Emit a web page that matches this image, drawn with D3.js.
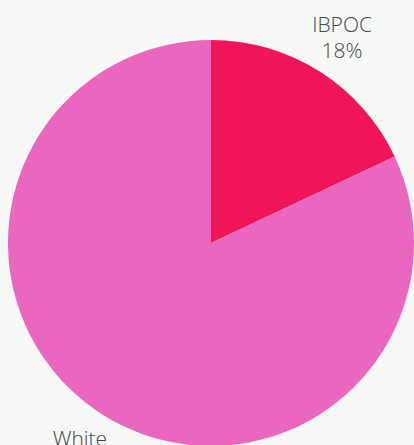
<!DOCTYPE html>
<html>
<head>
<meta charset="utf-8">
<script src="https://cdn.jsdelivr.net/npm/d3@7"></script>
<style>
  html, body { margin: 0; padding: 0; background: #f6f8f6; }
  svg { display: block; }
</style>
</head>
<body>
<svg id="chart" width="414" height="445"></svg>
<script>
// Share of respondents by group
const categories = ["IBPOC", "White"];
const values = [18, 82];
const colors = ["#ee1558", "#ea67bf"];

const width = 414, height = 445;
const cx = 211, cy = 243, radius = 203;

const svg = d3.select("#chart");
svg.append("rect").attr("width", width).attr("height", height).attr("fill", "#f6f8f6");

const data = categories.map((c, i) => ({ label: c, value: values[i], color: colors[i] }));

const pie = d3.pie().value(d => d.value).sort(null);
const arc = d3.arc().innerRadius(0).outerRadius(radius);
const labelArc = d3.arc().innerRadius(radius * 1.205).outerRadius(radius * 1.205);

const g = svg.append("g").attr("transform", `translate(${cx},${cy})`);
const arcs = pie(data);

g.selectAll("path.slice")
  .data(arcs)
  .join("path")
  .attr("class", "slice")
  .attr("d", arc)
  .attr("fill", d => d.data.color);

// Two-line labels outside the pie: name and percentage
const labelGroups = g.selectAll("g.label")
  .data(arcs)
  .join("g")
  .attr("class", "label")
  .attr("transform", d => `translate(${labelArc.centroid(d)})`)
  .attr("text-anchor", "middle")
  .attr("font-family", "'Open Sans', sans-serif")
  .attr("font-weight", 300)
  .attr("font-size", 21)
  .attr("fill", "#444");

labelGroups.append("text")
  .attr("y", -4)
  .text(d => d.data.label);
labelGroups.append("text")
  .attr("y", 22)
  .text(d => d.data.value + "%");
</script>
</body>
</html>
